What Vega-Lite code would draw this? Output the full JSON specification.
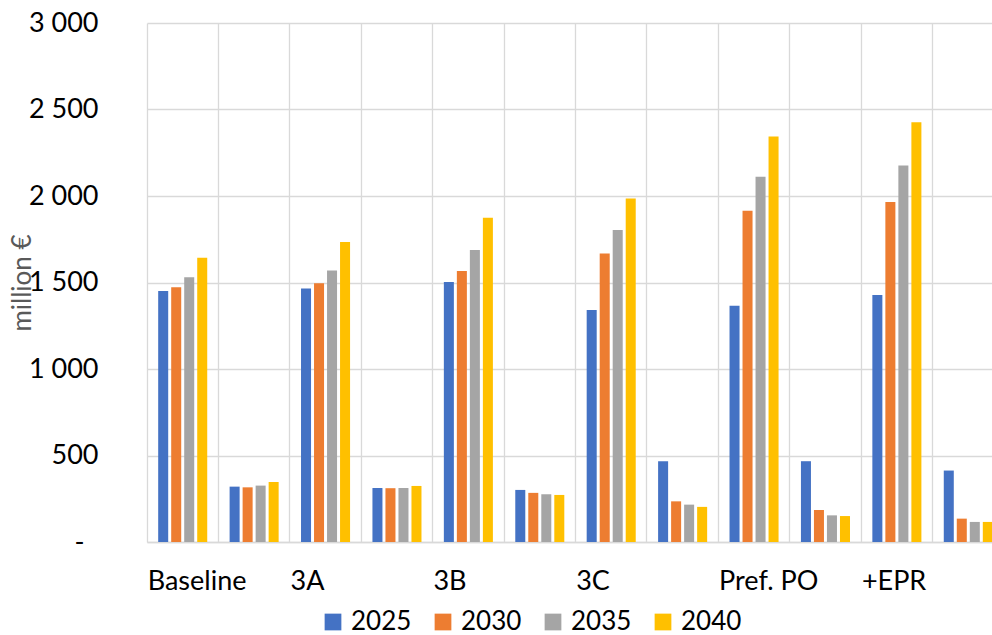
{
  "$schema": "https://vega.github.io/schema/vega-lite/v6.json",
  "autosize": {"type": "none"},
  "padding": {"left": 147, "top": 23, "right": 0, "bottom": 93},
  "width": 857,
  "height": 519,
  "background": "white",
  "config": {
    "view": {"stroke": null},
    "font": "Lato",
    "axis": {"gridColor": "#d9d9d9", "gridWidth": 1.3, "domain": false, "ticks": false}
  },
  "data": {
    "values": [
      {"cat": "Baseline", "year": "2025", "value": 1451},
      {"cat": "Baseline", "year": "2030", "value": 1472},
      {"cat": "Baseline", "year": "2035", "value": 1530},
      {"cat": "Baseline", "year": "2040", "value": 1643},
      {"cat": "Baseline#2", "year": "2025", "value": 320},
      {"cat": "Baseline#2", "year": "2030", "value": 316},
      {"cat": "Baseline#2", "year": "2035", "value": 326},
      {"cat": "Baseline#2", "year": "2040", "value": 347},
      {"cat": "3A", "year": "2025", "value": 1465},
      {"cat": "3A", "year": "2030", "value": 1495},
      {"cat": "3A", "year": "2035", "value": 1570},
      {"cat": "3A", "year": "2040", "value": 1734},
      {"cat": "3A#2", "year": "2025", "value": 312},
      {"cat": "3A#2", "year": "2030", "value": 311},
      {"cat": "3A#2", "year": "2035", "value": 312},
      {"cat": "3A#2", "year": "2040", "value": 324},
      {"cat": "3B", "year": "2025", "value": 1503},
      {"cat": "3B", "year": "2030", "value": 1566},
      {"cat": "3B", "year": "2035", "value": 1688},
      {"cat": "3B", "year": "2040", "value": 1875},
      {"cat": "3B#2", "year": "2025", "value": 301},
      {"cat": "3B#2", "year": "2030", "value": 284},
      {"cat": "3B#2", "year": "2035", "value": 276},
      {"cat": "3B#2", "year": "2040", "value": 272},
      {"cat": "3C", "year": "2025", "value": 1341},
      {"cat": "3C", "year": "2030", "value": 1667},
      {"cat": "3C", "year": "2035", "value": 1804},
      {"cat": "3C", "year": "2040", "value": 1985},
      {"cat": "3C#2", "year": "2025", "value": 467},
      {"cat": "3C#2", "year": "2030", "value": 235},
      {"cat": "3C#2", "year": "2035", "value": 216},
      {"cat": "3C#2", "year": "2040", "value": 203},
      {"cat": "Pref. PO", "year": "2025", "value": 1366},
      {"cat": "Pref. PO", "year": "2030", "value": 1915},
      {"cat": "Pref. PO", "year": "2035", "value": 2111},
      {"cat": "Pref. PO", "year": "2040", "value": 2344},
      {"cat": "Pref. PO#2", "year": "2025", "value": 467},
      {"cat": "Pref. PO#2", "year": "2030", "value": 185},
      {"cat": "Pref. PO#2", "year": "2035", "value": 154},
      {"cat": "Pref. PO#2", "year": "2040", "value": 150},
      {"cat": "+EPR", "year": "2025", "value": 1428},
      {"cat": "+EPR", "year": "2030", "value": 1966},
      {"cat": "+EPR", "year": "2035", "value": 2176},
      {"cat": "+EPR", "year": "2040", "value": 2427},
      {"cat": "+EPR#2", "year": "2025", "value": 413},
      {"cat": "+EPR#2", "year": "2030", "value": 135},
      {"cat": "+EPR#2", "year": "2035", "value": 116},
      {"cat": "+EPR#2", "year": "2040", "value": 116}
    ]
  },
  "mark": {"type": "bar"},
  "encoding": {
    "x": {
      "field": "cat",
      "type": "nominal",
      "sort": null,
      "scale": {"paddingInner": 0, "paddingOuter": 0},
      "axis": {
        "title": null,
        "bandPosition": 0,
        "grid": true,
        "labelAngle": 0,
        "labelAlign": "left",
        "labelBaseline": "top",
        "labelPadding": 26,
        "labelOffset": -35,
        "labelFontSize": 27,
        "labelColor": "#000000",
        "labelExpr": "test(/#/, datum.label) ? '' : datum.label",
        "domain": true,
        "domainColor": "#d9d9d9",
        "domainWidth": 1.3
      }
    },
    "xOffset": {
      "field": "year",
      "type": "nominal",
      "scale": {"paddingInner": 0.23, "paddingOuter": 0.86}
    },
    "y": {
      "field": "value",
      "type": "quantitative",
      "scale": {"domain": [0, 3000]},
      "axis": {
        "title": "million €",
        "titleColor": "#595959",
        "titleFontSize": 26,
        "titleFontWeight": "normal",
        "titleAngle": -90,
        "titleX": -125,
        "titleY": 259.5,
        "titleAlign": "center",
        "titleBaseline": "middle",
        "values": [0, 500, 1000, 1500, 2000, 2500, 3000],
        "labelFontSize": 27,
        "labelColor": "#000000",
        "labelPadding": {"condition": {"test": "datum.value == 0", "value": 63}, "value": 49},
        "labelExpr": "datum.value == 0 ? '-' : replace(format(datum.value, ','), ',', ' ')"
      }
    },
    "color": {
      "field": "year",
      "type": "nominal",
      "scale": {"domain": ["2025", "2030", "2035", "2040"], "range": ["#4472C4", "#ED7D31", "#A5A5A5", "#FFC000"]},
      "legend": {
        "title": null,
        "orient": "none",
        "direction": "horizontal",
        "legendX": 173,
        "legendY": 586,
        "symbolType": "square",
        "symbolSize": 280,
        "symbolStrokeWidth": 0,
        "labelFontSize": 26,
        "labelColor": "#000000",
        "labelOffset": 5,
        "columnPadding": 18,
        "padding": 0
      }
    }
  }
}
